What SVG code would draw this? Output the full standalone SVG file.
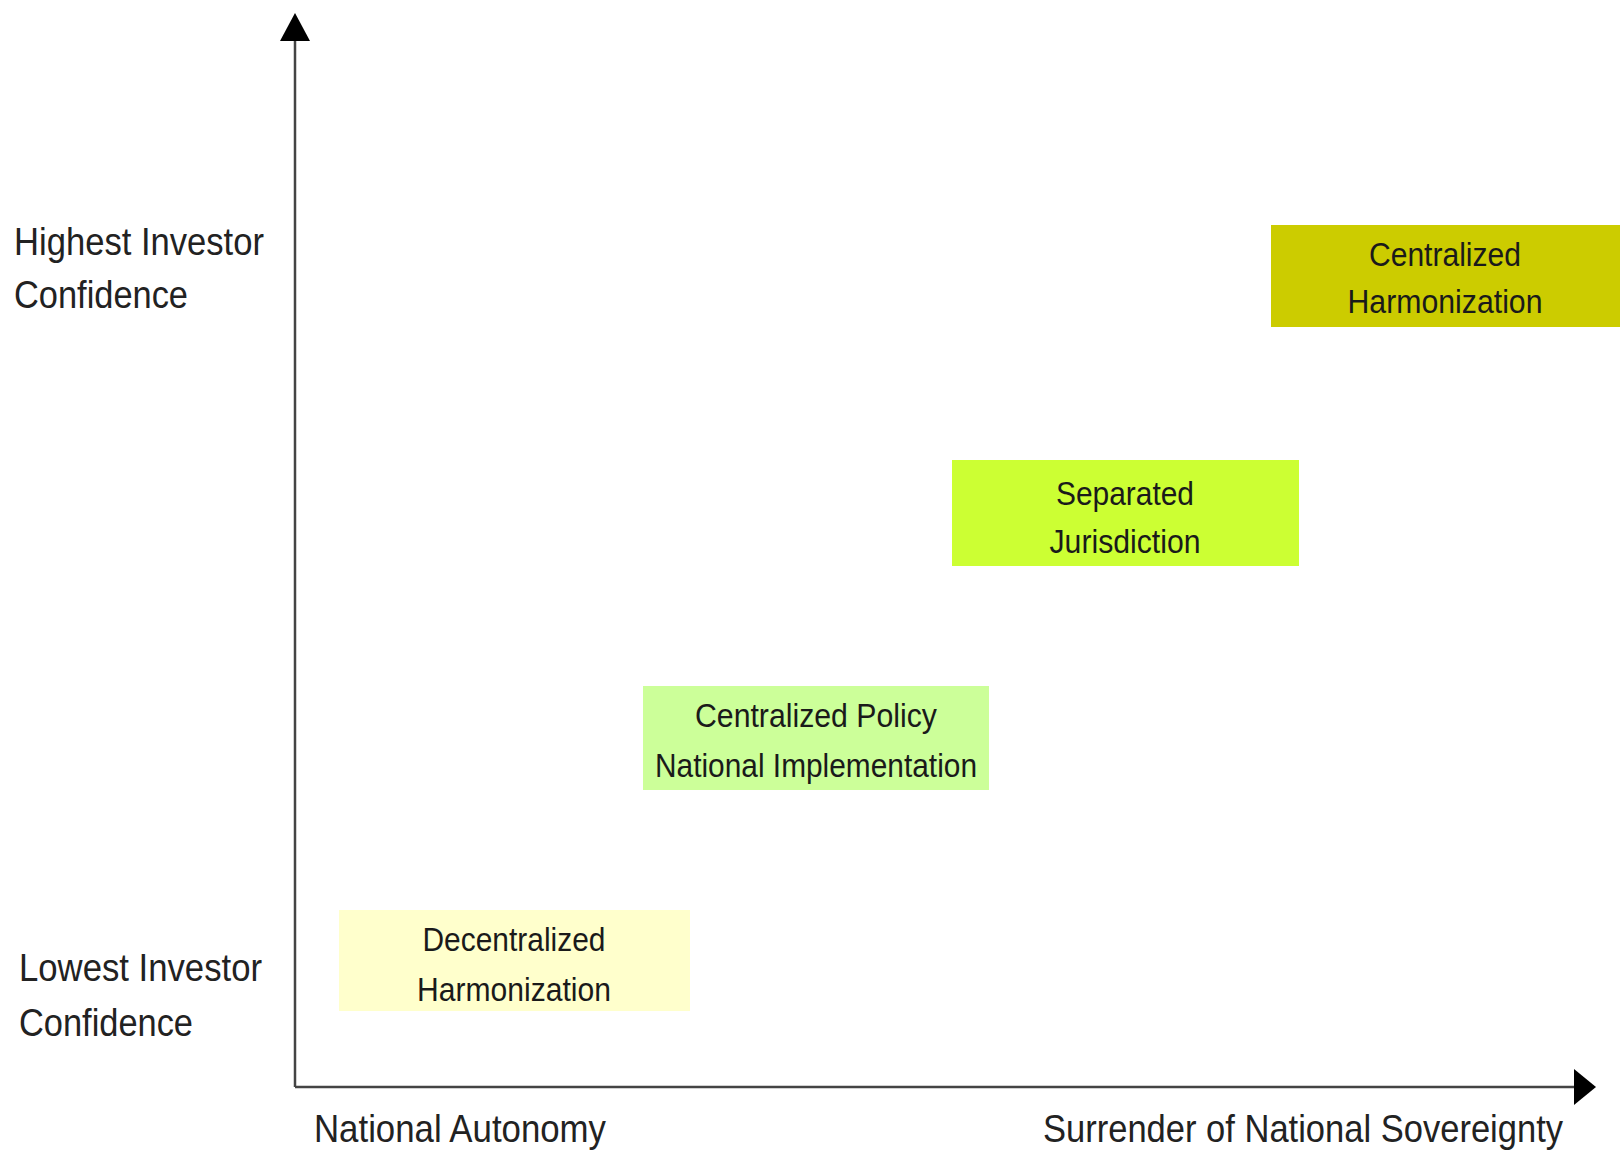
<svg xmlns="http://www.w3.org/2000/svg" width="1623" height="1160" viewBox="0 0 1623 1160">
  <style>
    .axis { stroke: #444; stroke-width: 2.5; fill: none; }
    .lbl { font-family: "Liberation Sans", Arial, sans-serif; font-size: 34px; fill: #222; }
    .box-text { font-family: "Liberation Sans", Arial, sans-serif; font-size: 34px; fill: #1a1a1a; text-anchor: middle; }
  </style>
  <rect width="1623" height="1160" fill="#ffffff"/>
  <g id="connectors">
    <line class="axis" x1="295" y1="1087" x2="295" y2="38"/>
    <polygon points="295,13 280,41 310,41" fill="#000"/>
    <line class="axis" x1="295" y1="1087" x2="1575" y2="1087"/>
    <polygon points="1596,1087 1574,1069 1574,1105" fill="#000"/>
  </g>
  <g id="y-labels">
    <text class="lbl" transform="translate(14,255) scale(1,1.15)" textLength="250" lengthAdjust="spacingAndGlyphs">Highest Investor</text>
    <text class="lbl" transform="translate(14,308) scale(1,1.15)" textLength="174" lengthAdjust="spacingAndGlyphs">Confidence</text>
    <text class="lbl" transform="translate(19,981) scale(1,1.15)" textLength="243" lengthAdjust="spacingAndGlyphs">Lowest Investor</text>
    <text class="lbl" transform="translate(19,1036) scale(1,1.15)" textLength="174" lengthAdjust="spacingAndGlyphs">Confidence</text>
  </g>
  <g id="x-labels">
    <text class="lbl" transform="translate(314,1142) scale(1,1.15)" textLength="292" lengthAdjust="spacingAndGlyphs">National Autonomy</text>
    <text class="lbl" transform="translate(1043,1142) scale(1,1.15)" textLength="520" lengthAdjust="spacingAndGlyphs">Surrender of National Sovereignty</text>
  </g>
  <g id="node-centralized-harmonization">
    <rect x="1271" y="225" width="349" height="102" fill="#cccc00"/>
    <text class="box-text" x="1445" y="266" textLength="152" lengthAdjust="spacingAndGlyphs">Centralized</text>
    <text class="box-text" x="1445" y="313" textLength="195" lengthAdjust="spacingAndGlyphs">Harmonization</text>
  </g>
  <g id="node-separated-jurisdiction">
    <rect x="952" y="460" width="347" height="106" fill="#ccff33"/>
    <text class="box-text" x="1125" y="505" textLength="138" lengthAdjust="spacingAndGlyphs">Separated</text>
    <text class="box-text" x="1125" y="553" textLength="151" lengthAdjust="spacingAndGlyphs">Jurisdiction</text>
  </g>
  <g id="node-centralized-policy">
    <rect x="643" y="686" width="346" height="104" fill="#ccff99"/>
    <text class="box-text" x="816" y="727" textLength="242" lengthAdjust="spacingAndGlyphs">Centralized Policy</text>
    <text class="box-text" x="816" y="777" textLength="322" lengthAdjust="spacingAndGlyphs">National Implementation</text>
  </g>
  <g id="node-decentralized-harmonization">
    <rect x="339" y="910" width="351" height="101" fill="#ffffcc"/>
    <text class="box-text" x="514" y="951" textLength="183" lengthAdjust="spacingAndGlyphs">Decentralized</text>
    <text class="box-text" x="514" y="1001" textLength="194" lengthAdjust="spacingAndGlyphs">Harmonization</text>
  </g>
</svg>
